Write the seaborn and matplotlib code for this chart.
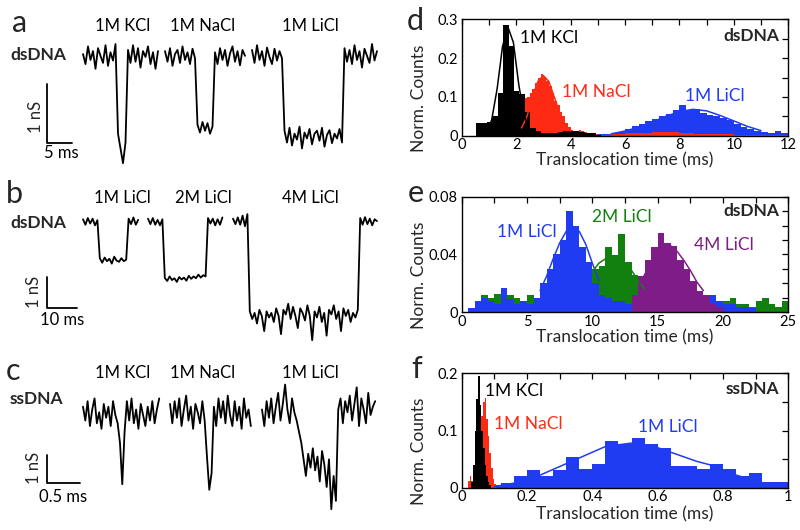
import numpy as np
import pandas as pd
import seaborn as sns
import matplotlib.pyplot as plt
import matplotlib.ticker as mtick

# ---------------- current traces (nS), sampled at a fixed step ----------------
step_a = 0.5  # ms
a_kcl = [0.05, -0.12, 0.18, -0.05, 0.1, -0.2, 0.15, 0.02, -0.1, 0.2, -0.15, 0.08, -0.06, 0.22,
         -1.3, -1.55, -1.8, -1.45,
         0.12, -0.1, 0.2, -0.08, 0.15, -0.18, 0.1, 0.0, 0.18, -0.12, 0.08, -0.2, 0.1]
a_nacl = [0.1, -0.08, 0.15, -0.15, 0.05, 0.12, -0.1, 0.18, -0.05, 0.08, -0.12, 0.14, -0.02,
          -1.15, -1.28, -1.1, -1.25, -1.12, -1.3, -1.18,
          0.08, -0.12, 0.15, -0.05, 0.12, -0.15, 0.06, 0.18, -0.08, 0.1, -0.14, 0.12, 0.02]
a_licl = [0.12, -0.1, 0.2, -0.05, 0.1, -0.15, 0.16, 0.0, -0.12, 0.14, -0.06, 0.1, -0.02,
          -1.25, -1.45, -1.2, -1.5, -1.3, -1.4, -1.18, -1.55, -1.28, -1.38, -1.22, -1.48,
          -1.3, -1.25, -1.42, -1.2, -1.52, -1.32, -1.24, -1.46, -1.3, -1.38, -1.22, -1.45,
          0.15, -0.08, 0.12, -0.12, 0.2, -0.05, 0.1, -0.18, 0.14, 0.02, -0.1, 0.22, -0.06, 0.1]

step_b = 0.8  # ms
b_1m = [0.08, -0.1, 0.12, -0.06, 0.1, -0.12, 0.05,
        -1.2, -1.35, -1.18, -1.3, -1.22, -1.38, -1.15, -1.28, -1.32, -1.2, -1.3, -1.25,
        0.1, -0.08, 0.14, -0.1, 0.06]
b_2m = [0.1, -0.08, 0.12, -0.1, 0.06, -0.12, 0.08,
        -1.85, -1.95, -1.8, -1.92, -1.86, -1.98, -1.82, -1.9, -1.84, -1.94,
        -1.78, -1.88, -1.8, -1.86, -1.74, -1.84, -1.76, -1.8,
        0.12, -0.06, 0.1, -0.12, 0.08, -0.1, 0.14]
b_4m = [0.1, -0.08, 0.14, -0.1, 0.2, -0.15, 0.25,
        -2.95, -3.2, -3.0, -3.35, -2.9, -3.1, -3.6, -2.95, -3.15, -3.0,
        -3.3, -2.85, -3.1, -3.7, -2.9, -3.05, -2.7, -3.2, -2.8, -3.1,
        -3.5, -2.85, -3.0, -3.25, -2.75, -3.1, -3.9, -2.95, -3.15, -2.8,
        -3.3, -3.0, -3.75, -2.9, -3.05, -2.75, -3.2, -2.95, -3.6, -2.85,
        -3.1, -2.9, -3.3, -3.0, -3.15, -2.9,
        0.12, -0.1, 0.15, -0.08, 0.1, -0.12, 0.08, 0.02]

step_c = 0.035  # ms
c_kcl = [0.3, -0.2, 0.5, -0.4, 0.2, 0.6, -0.3, 0.1, -0.5, 0.4, -0.1, 0.3, -0.4, 0.5, 0.0, -0.3,
         -1.0, -2.5, -0.6,
         0.5, -0.2, 0.6, -0.3, 0.2, -0.5, 0.4, 0.0, -0.4, 0.3, -0.2, 0.5, -0.3, 0.2, 0.6]
c_nacl = [0.4, -0.3, 0.5, -0.1, 0.6, -0.4, 0.2, 0.7, -0.2, 0.3, -0.5, 0.4, 0.1, -0.3, 0.5, -0.2,
          -1.5, -2.7, -2.1,
          0.3, -0.4, 0.6, -0.1, 0.5, -0.3, 0.7, 0.0, -0.4, 0.5, -0.2, 0.3, -0.5, 0.6, -0.1, 0.2, -0.4]
c_licl = [0.2, -0.4, 0.5, -0.1, 0.6, -0.3, 0.3, 0.8, -0.2, 0.4, 1.1, 0.2, -0.3, 0.6, 0.1, -0.2,
          -0.6, -1.0,
          -1.6, -2.2, -1.4, -1.9, -1.2, -2.0, -1.5, -2.4, -1.3, -1.8, -2.6, -1.6, -3.4, -2.2, -3.1,
          0.2, 0.6, -0.3, 0.5, 0.1, 0.7, -0.2, 0.4, 1.0, -0.4, 0.6, 0.2, -0.3, 0.8, 0.0, 0.3, 0.5]

# ---------------- histograms: (first edge, bin width, normalised counts) ----------------
d_kcl_bins = (0.52, 0.2)
d_kcl = [0.033, 0.034, 0.036, 0.05, 0.11, 0.285, 0.232, 0.115, 0.108, 0.06, 0.02, 0.012,
         0.008, 0.006, 0.008, 0.01, 0.012, 0.012, 0.011, 0.01, 0.008, 0.006, 0.003]
d_nacl_bins = (2.3, 0.1)
d_nacl = [0.098, 0.1, 0.11, 0.12, 0.135, 0.15, 0.158, 0.152, 0.14, 0.128, 0.11, 0.09, 0.08,
          0.06, 0.05, 0.032, 0.022, 0.015, 0.012, 0.01, 0.014, 0.012, 0.01, 0.008, 0.006,
          0.005, 0.004]
d_nacl_tail_bins = (5.0, 0.5)
d_nacl_tail = [0.003, 0.004, 0.006, 0.008, 0.01, 0.009, 0.006, 0.005, 0.004, 0.004, 0.003,
               0.003, 0.002, 0.002]
d_licl_bins = (3.5, 0.25)
d_licl = [0.003, 0.004, 0.004, 0.005, 0.005, 0.005, 0.004, 0.004, 0.006, 0.01, 0.018, 0.025,
          0.03, 0.037, 0.043, 0.05, 0.056, 0.065, 0.08, 0.066, 0.068, 0.058, 0.053, 0.052,
          0.046, 0.04, 0.03, 0.022, 0.018, 0.012, 0.01, 0.008, 0.012, 0.006]

e_1m_bins = (0.5, 0.5)
e_1m = [0.003, 0.008, 0.01, 0.008, 0.006, 0.017, 0.009, 0.006, 0.008, 0.006, 0.01, 0.02,
        0.03, 0.04, 0.05, 0.07, 0.06, 0.045, 0.035, 0.02, 0.012, 0.01, 0.008, 0.008,
        0.006, 0.006, 0.006, 0.004, 0.004, 0.004, 0.004, 0.004, 0.004, 0.006, 0.005,
        0.006, 0.006, 0.012, 0.008, 0.006, 0.006, 0.004, 0.004, 0.003]
e_2m_bins = (1.0, 0.5)
e_2m = [0.006, 0.012, 0.01, 0.013, 0.008, 0.012, 0.01, 0.008, 0.012, 0.008, 0.009, 0.01,
        0.01, 0.01, 0.01, 0.01, 0.01, 0.01, 0.03, 0.032, 0.045, 0.04, 0.054, 0.035,
        0.026, 0.02, 0.015, 0.012, 0.01, 0.01, 0.008, 0.008, 0.008, 0.008, 0.006, 0.006,
        0.008, 0.008, 0.008, 0.01, 0.006, 0.006, 0.004, 0.008, 0.01, 0.006, 0.004, 0.008]
e_4m_bins = (13.0, 0.5)
e_4m = [0.012, 0.025, 0.036, 0.045, 0.055, 0.048, 0.046, 0.036, 0.03, 0.022, 0.015, 0.012,
        0.006, 0.004]

f_kcl_bins = (0.03, 0.005)
f_kcl = [0.01, 0.04, 0.1, 0.155, 0.195, 0.145, 0.1, 0.07, 0.04, 0.02, 0.01, 0.004]
f_nacl_bins = (0.02, 0.005)
f_nacl = [0.012, 0.02, 0.012, 0.02, 0.03, 0.05, 0.07, 0.09, 0.125, 0.15, 0.157, 0.12, 0.09,
          0.06, 0.035, 0.015, 0.006]
f_licl_bins = (0.08, 0.04)
f_licl = [0.004, 0.009, 0.02, 0.031, 0.02, 0.031, 0.054, 0.032, 0.042, 0.082, 0.076, 0.087,
          0.076, 0.07, 0.038, 0.038, 0.032, 0.042, 0.032, 0.02, 0.025, 0.01, 0.01]

# ---------------- fit curves ----------------
d_kcl_fit_t = [0.9, 1.1, 1.3, 1.5, 1.7, 1.9, 2.1, 2.3, 2.5]
d_kcl_fit = [0.01, 0.04, 0.12, 0.23, 0.28, 0.24, 0.13, 0.05, 0.01]
d_nacl_fit_t = [2.2, 2.4, 2.6, 2.8, 3.0, 3.2, 3.4, 3.6, 3.8, 4.0]
d_nacl_fit = [0.02, 0.05, 0.1, 0.14, 0.155, 0.14, 0.1, 0.06, 0.03, 0.012]
d_licl_fit_t = [5.5, 6.0, 6.5, 7.0, 7.5, 8.0, 8.5, 9.0, 9.5, 10.0, 10.5, 11.0]
d_licl_fit = [0.005, 0.012, 0.022, 0.035, 0.05, 0.062, 0.068, 0.064, 0.052, 0.038, 0.024, 0.013]
e_1m_fit_t = [6.0, 6.5, 7.0, 7.5, 8.0, 8.5, 9.0, 9.5, 10.0, 10.5]
e_1m_fit = [0.015, 0.025, 0.037, 0.048, 0.056, 0.059, 0.056, 0.047, 0.034, 0.022]
e_2m_fit_t = [10.0, 10.5, 11.0, 11.5, 12.0, 12.5, 13.0, 13.5, 14.0]
e_2m_fit = [0.028, 0.034, 0.037, 0.0385, 0.037, 0.034, 0.029, 0.022, 0.016]
e_4m_fit_t = [13.5, 14.0, 14.5, 15.0, 15.5, 16.0, 16.5, 17.0, 17.5, 18.0, 18.5]
e_4m_fit = [0.018, 0.026, 0.035, 0.042, 0.046, 0.046, 0.042, 0.036, 0.029, 0.021, 0.015]
f_licl_fit_t = [0.10, 0.16, 0.24, 0.32, 0.40, 0.44, 0.52, 0.60, 0.64, 0.72, 0.76, 0.84, 0.90]
f_licl_fit = [0.002, 0.008, 0.022, 0.042, 0.062, 0.072, 0.078, 0.07, 0.062, 0.046, 0.04, 0.022, 0.012]

BLACK, RED, BLUE = "#000000", "#ff2a14", "#1f3cf2"
GREEN, PURPLE = "#12800e", "#7e1c88"

sns.set_style("white")
plt.rcParams["font.family"] = ["Lato", "DejaVu Sans"]

W, H = 800, 530
fig = plt.figure(figsize=(W / 100, H / 100), dpi=100)


def px_axes(l, t, r, b):
    return fig.add_axes([l / W, 1 - b / H, (r - l) / W, (b - t) / H])


def px_text(x, y, s, **kw):
    fig.text(x / W, 1 - y / H, s, **kw)


def trace_panel(box, x0, ppm, y0, ppn, segments, step, bar_corner, bar_ms):
    l, t, r, b = box
    ax = px_axes(l, t, r, b)
    for start_px, vals in segments:
        tt = (start_px - x0) / ppm + step * np.arange(len(vals))
        sns.lineplot(x=tt, y=vals, ax=ax, color="black", linewidth=1.3,
                     sort=False, estimator=None)
    ax.set_xlim((l - x0) / ppm, (r - x0) / ppm)
    ax.set_ylim((y0 - b) / ppn, (y0 - t) / ppn)
    bx = (bar_corner[0] - x0) / ppm
    by = (y0 - bar_corner[1]) / ppn
    ax.plot([bx, bx, bx + bar_ms], [by + 1, by, by], color="black", lw=1.3)
    ax.axis("off")
    return ax


def hist(ax, bins, heights, color):
    start, width = bins
    edges = [start + width * i for i in range(len(heights) + 1)]
    df = pd.DataFrame({"t": [e + width / 2 for e in edges[:-1]], "w": heights})
    sns.histplot(data=df, x="t", weights="w", bins=edges, element="step", fill=True,
                 color=color, alpha=1, linewidth=0, ax=ax)


def fit(ax, t, y, color):
    sns.lineplot(x=t, y=y, ax=ax, color=color, linewidth=1.1, sort=False, estimator=None)


def style_hist(ax, xlim, ylim, xmaj, xmin, ymaj, ymin, xlab_y=-0.215):
    ax.set_xlim(*xlim)
    ax.set_ylim(*ylim)
    ax.xaxis.set_major_locator(mtick.MultipleLocator(xmaj))
    ax.xaxis.set_minor_locator(mtick.MultipleLocator(xmin))
    ax.yaxis.set_major_locator(mtick.MultipleLocator(ymaj))
    ax.yaxis.set_minor_locator(mtick.MultipleLocator(ymin))
    fmt = mtick.FuncFormatter(lambda v, p: "%g" % round(v, 6))
    ax.xaxis.set_major_formatter(fmt)
    ax.yaxis.set_major_formatter(fmt)
    ax.tick_params(which="both", direction="in", top=True, right=True, length=4,
                   width=0.9, labelsize=10.5, pad=3, colors="black")
    ax.tick_params(axis="x", pad=2)
    for s in ax.spines.values():
        s.set_linewidth(1.0)
        s.set_color("black")
    ax.set_xlabel("Translocation time (ms)", fontsize=12.5, va="center")
    ax.set_ylabel("Norm. Counts", fontsize=12.5, va="center")
    ax.xaxis.set_label_coords(0.5, xlab_y)
    ax.yaxis.set_label_coords(-0.132, 0.32)


# ---------------- left: traces ----------------
trace_panel((0, 30, 400, 175), 83, 5.0, 57, 59.0,
            [(83, a_kcl), (165, a_nacl), (252, a_licl)], step_a, (47, 143), 5)
trace_panel((0, 200, 400, 345), 83, 3.0, 221.7, 30.4,
            [(83, b_1m), (148, b_2m), (233, b_4m)], step_b, (47, 307.7), 10)
trace_panel((0, 370, 400, 525), 83, 66.0, 415, 27.7,
            [(83, c_kcl), (170, c_nacl), (262, c_licl)], step_c, (47, 482.7), 0.5)

lab = dict(fontsize=12, ha="center", va="center", color="black")
for y, names in [(25.8, ["1M KCl", "1M NaCl", "1M LiCl"]),
                 (198.3, ["1M LiCl", "2M LiCl", "4M LiCl"]),
                 (373.3, ["1M KCl", "1M NaCl", "1M LiCl"])]:
    for x, s in zip([122.5, 203, 310], names):
        px_text(x, y, s, **lab)
px_text(10, 55, "dsDNA", fontsize=12.5, fontweight="bold", va="center")
px_text(10, 223, "dsDNA", fontsize=12.5, fontweight="bold", va="center")
px_text(10, 399, "ssDNA", fontsize=12.5, fontweight="bold", va="center")
for x, y, s in [(36, 117, "1 nS"), (34, 292, "1 nS"), (34, 468, "1 nS")]:
    px_text(x, y, s, fontsize=12, rotation=90, ha="center", va="center")
px_text(61, 153, "5 ms", **lab)
px_text(62, 320, "10 ms", **lab)
px_text(63, 497, "0.5 ms", **lab)
for x, y, s in [(12, 32, "a"), (6, 203, "b"), (6, 380, "c"),
                (407, 30, "d"), (408, 202, "e"), (411, 378, "f")]:
    px_text(x, y, s, fontsize=22, va="baseline")

# ---------------- right: histograms ----------------
ax_d = px_axes(461.7, 19.3, 788.3, 135.7)
hist(ax_d, d_licl_bins, d_licl, BLUE)
hist(ax_d, d_nacl_bins, d_nacl, RED)
hist(ax_d, d_nacl_tail_bins, d_nacl_tail, RED)
hist(ax_d, d_kcl_bins, d_kcl, BLACK)
fit(ax_d, d_licl_fit_t, d_licl_fit, BLUE)
fit(ax_d, d_nacl_fit_t, d_nacl_fit, RED)
fit(ax_d, d_kcl_fit_t, d_kcl_fit, BLACK)
style_hist(ax_d, (0, 12), (0, 0.3), 2, 1, 0.1, 0.05)

ax_e = px_axes(461.7, 196.7, 788.3, 312.3)
hist(ax_e, e_2m_bins, e_2m, GREEN)
hist(ax_e, e_1m_bins, e_1m, BLUE)
hist(ax_e, e_4m_bins, e_4m, PURPLE)
fit(ax_e, e_1m_fit_t, e_1m_fit, BLUE)
fit(ax_e, e_2m_fit_t, e_2m_fit, GREEN)
fit(ax_e, e_4m_fit_t, e_4m_fit, PURPLE)
style_hist(ax_e, (0, 25), (0, 0.08), 5, 2.5, 0.04, 0.01)

ax_f = px_axes(461.7, 373.3, 788.3, 487.7)
hist(ax_f, f_licl_bins, f_licl, BLUE)
hist(ax_f, f_nacl_bins, f_nacl, RED)
hist(ax_f, f_kcl_bins, f_kcl, BLACK)
fit(ax_f, f_licl_fit_t, f_licl_fit, BLUE)
style_hist(ax_f, (0, 1), (0, 0.2), 0.2, 0.1, 0.1, 0.05, xlab_y=-0.235)

ann = dict(fontsize=12.5, va="center")
px_text(520, 38.3, "1M KCl", color=BLACK, **ann)
px_text(561.7, 91.7, "1M NaCl", color=RED, **ann)
px_text(685, 95.8, "1M LiCl", color=BLUE, **ann)
px_text(496.7, 231.7, "1M LiCl", color=BLUE, **ann)
px_text(591.7, 216.7, "2M LiCl", color=GREEN, **ann)
px_text(694.3, 245, "4M LiCl", color=PURPLE, **ann)
px_text(485, 390.8, "1M KCl", color=BLACK, **ann)
px_text(494.3, 423.7, "1M NaCl", color=RED, **ann)
px_text(638.3, 427.5, "1M LiCl", color=BLUE, **ann)
for y, s in [(35.8, "dsDNA"), (210.8, "dsDNA"), (389.2, "ssDNA")]:
    px_text(779, y, s, fontsize=12.5, fontweight="bold", ha="right", va="center")

fig.savefig("out.png", dpi=100)
